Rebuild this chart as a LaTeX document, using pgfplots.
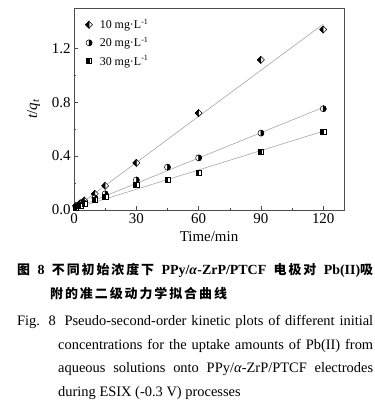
\documentclass[border=0pt]{standalone}
\usepackage{pgfplots}
\pgfplotsset{compat=1.18}
\usepackage{fontspec}
\setmainfont{Liberation Serif}
\newfontfamily\cjk[LetterSpace=15]{Noto Sans CJK SC}
\pgfdeclareplotmark{hdiamond}{%
  \pgfpathmoveto{\pgfqpoint{0pt}{\pgfplotmarksize}}%
  \pgfpathlineto{\pgfqpoint{\pgfplotmarksize}{0pt}}%
  \pgfpathlineto{\pgfqpoint{0pt}{-\pgfplotmarksize}}%
  \pgfpathlineto{\pgfqpoint{-\pgfplotmarksize}{0pt}}%
  \pgfpathclose
  \pgfsetfillcolor{white}\pgfusepath{fill,stroke}%
  \pgfpathmoveto{\pgfqpoint{0pt}{\pgfplotmarksize}}%
  \pgfpathlineto{\pgfqpoint{-\pgfplotmarksize}{0pt}}%
  \pgfpathlineto{\pgfqpoint{0pt}{-\pgfplotmarksize}}%
  \pgfpathclose
  \pgfsetfillcolor{black}\pgfusepath{fill,stroke}%
}
\pgfdeclareplotmark{hcircle}{%
  \pgfpathcircle{\pgfpointorigin}{\pgfplotmarksize}%
  \pgfsetfillcolor{white}\pgfusepath{fill,stroke}%
  \pgfpathmoveto{\pgfqpoint{0pt}{\pgfplotmarksize}}%
  \pgfpatharc{90}{-90}{\pgfplotmarksize}%
  \pgfpathclose
  \pgfsetfillcolor{black}\pgfusepath{fill,stroke}%
}
\pgfdeclareplotmark{hsquare}{%
  \pgfpathrectanglecorners{\pgfqpoint{-\pgfplotmarksize}{-\pgfplotmarksize}}{\pgfqpoint{\pgfplotmarksize}{\pgfplotmarksize}}%
  \pgfsetfillcolor{white}\pgfusepath{fill,stroke}%
  \pgfpathrectanglecorners{\pgfqpoint{-\pgfplotmarksize}{-\pgfplotmarksize}}{\pgfqpoint{0pt}{\pgfplotmarksize}}%
  \pgfsetfillcolor{black}\pgfusepath{fill,stroke}%
}
\begin{document}
\begin{tikzpicture}[x=1bp,y=1bp]
\path[use as bounding box] (0,0) rectangle (375,404);
\begin{axis}[
  at={(74bp,194bp)}, anchor=south west,
  scale only axis, width=270bp, height=202bp,
  xmin=0, xmax=130, ymin=0, ymax=1.5,
  xtick={0,30,60,90,120}, ytick={0,0.4,0.8,1.2},
  minor x tick num=1, minor y tick num=1,
  tick align=inside, tick pos=left,
  major tick length=4bp, minor tick length=2bp,
  axis line style={black!70}, every tick/.style={black!70},
  /pgf/number format/assume math mode=true,
  yticklabel style={/pgf/number format/fixed, /pgf/number format/fixed zerofill, /pgf/number format/precision=1},
  tick label style={font=\fontsize{15}{15}\selectfont},
  xlabel={Time/min},
  ylabel={\textit{t}/\textit{q}\textsubscript{\textit{t}}},
  label style={font=\fontsize{15}{15}\selectfont},
  x label style={at={(axis description cs:0.5,-0.13)}, anchor=center},
  y label style={at={(axis description cs:-0.15,0.5)}, anchor=center},
  legend style={draw=none, fill=none, at={(0.03,0.965)}, anchor=north west,
    font=\fontsize{12}{12}\selectfont, row sep=3bp, column sep=5bp},
  legend cell align=left,
]
\addplot[black!35, line width=0.6pt, forget plot] coordinates {(0,0.01) (120,1.38)};
\addplot[black!35, line width=0.6pt, forget plot] coordinates {(0,0.01) (120,0.762)};
\addplot[black!35, line width=0.6pt, forget plot] coordinates {(0,0.01) (120,0.585)};
\addplot[only marks, mark=hdiamond, mark size=3.5bp, line width=0.5pt] coordinates {
 (1,0.03) (3,0.05) (5,0.07) (10,0.12) (15,0.18) (30,0.35) (60,0.72) (90,1.115) (120,1.34)};
\addlegendentry{10 mg·L\textsuperscript{-1}}
\addplot[only marks, mark=hcircle, mark size=3bp, line width=0.5pt] coordinates {
 (1,0.02) (3,0.035) (5,0.05) (10,0.09) (15,0.12) (30,0.223) (45,0.318) (60,0.387) (90,0.571) (120,0.752)};
\addlegendentry{20 mg·L\textsuperscript{-1}}
\addplot[only marks, mark=hsquare, mark size=2.6bp, line width=0.5pt] coordinates {
 (1,0.02) (3,0.03) (5,0.045) (10,0.075) (15,0.10) (30,0.186) (45,0.224) (60,0.276) (90,0.434) (120,0.579)};
\addlegendentry{30 mg·L\textsuperscript{-1}}
\end{axis}
\node[anchor=base west, inner sep=0] at (17,130) {\fontsize{13}{13}\selectfont\makebox[356bp][s]{{\cjk\bfseries 图} {\bfseries\fontsize{14}{14}\selectfont 8} {\cjk\bfseries 不同初始浓度下} {\bfseries\fontsize{14}{14}\selectfont PPy/\textit{α}-ZrP/PTCF} {\cjk\bfseries 电极对} {\bfseries\fontsize{14}{14}\selectfont Pb(II)}{\cjk\bfseries 吸}}};
\node[anchor=base west, inner sep=0] at (50,106) {\fontsize{13}{13}\selectfont{\cjk\bfseries 附的准二级动力学拟合曲线}};
\node[anchor=base west, inner sep=0] at (17,79) {\fontsize{14.5}{14.5}\selectfont\makebox[356bp][s]{Fig. 8\hspace{4bp} Pseudo-second-order kinetic plots of different initial}};
\node[anchor=base west, inner sep=0] at (58,55) {\fontsize{14.5}{14.5}\selectfont\makebox[315bp][s]{concentrations for the uptake amounts of Pb(II) from}};
\node[anchor=base west, inner sep=0] at (58,32) {\fontsize{14.5}{14.5}\selectfont\makebox[315bp][s]{aqueous solutions onto PPy/\textit{α}-ZrP/PTCF electrodes}};
\node[anchor=base west, inner sep=0] at (58,8) {\fontsize{14.5}{14.5}\selectfont during ESIX (-0.3 V) processes};
\end{tikzpicture}
\end{document}
